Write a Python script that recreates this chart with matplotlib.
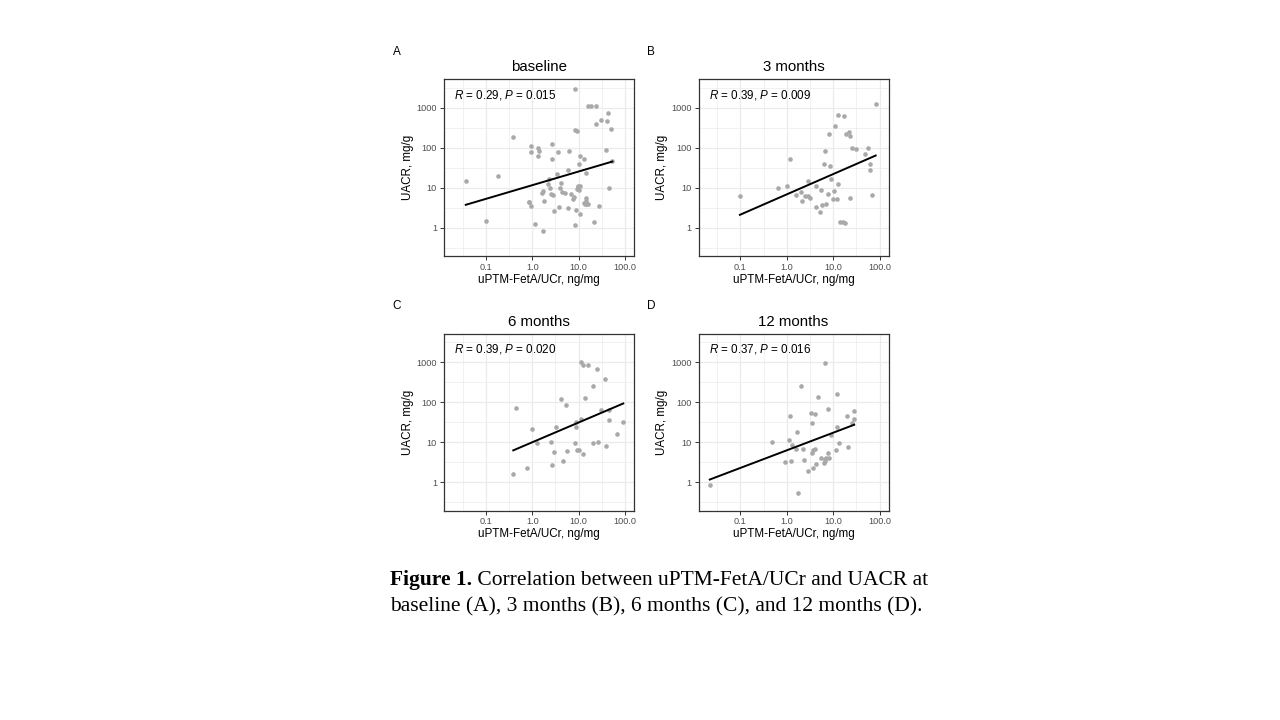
import numpy as np
import matplotlib
matplotlib.use('Agg')
import matplotlib.pyplot as plt
from matplotlib.ticker import FixedLocator, FixedFormatter, NullFormatter

plt.rcParams['font.family'] = ['Liberation Sans', 'DejaVu Sans']
plt.rcParams['mathtext.fontset'] = 'custom'
plt.rcParams['mathtext.rm'] = 'Liberation Sans'
plt.rcParams['mathtext.it'] = 'Liberation Sans:italic'

# ---------------- data ----------------
a_x = [0.037, 0.1, 0.18, 0.38, 0.83, 0.87, 0.92, 0.95, 0.95, 1.14, 1.35, 1.37, 1.3,
       1.6, 1.67, 1.73, 1.78, 2.2, 2.3, 2.45, 2.48, 2.6, 2.7, 2.8, 2.9, 3.4, 3.6,
       3.7, 3.9, 4.1, 4.4, 5.0, 5.9, 6.3, 6.0, 6.8, 7.4, 7.9, 8.3, 8.4, 9.0, 8.5,
       8.7, 9.2, 9.5, 9.8, 10.3, 10.6, 10.0, 10.6, 10.6, 13, 13, 13.5, 14, 14.5,
       14.5, 14.5, 16, 16, 18, 23.5, 21, 23, 27, 30, 39, 40.5, 43, 44, 49, 53]
a_y = [15, 1.47, 20, 185, 4.4, 4.3, 76, 112, 3.5, 1.23, 100, 84, 62,
       7.4, 8.3, 0.84, 4.5, 12.3, 16.8, 10, 7.1, 51, 120, 6.7, 2.6, 22, 76,
       3.2, 9.6, 13, 7.9, 7.5, 28, 81, 3.1, 6.8, 5.2, 5.8, 2880, 270, 256, 1.14,
       2.8, 9.3, 10.4, 11, 8.9, 11, 38, 62, 2.2, 51, 4.1, 3.8, 4.6, 23,
       5.6, 4.0, 3.8, 1100, 1100, 1100, 1.4, 390, 3.5, 490, 89, 465, 740, 9.8, 295, 45]

b_x = [0.098, 0.66, 1.0, 1.16, 1.6, 2.04, 2.1, 2.5, 2.85, 2.9, 3.1, 4.3, 4.2, 5.1,
       5.5, 5.7, 6.2, 6.7, 7.1, 7.7, 8.1, 8.5, 8.9, 9.8, 10.3, 10.9, 11.8, 12.6,
       12.6, 14, 15.9, 17.8, 17.3, 18.7, 22.4, 22.9, 23.3, 25, 31.6, 47.6, 55, 62,
       62, 67, 82]
b_y = [6.3, 10, 11, 51, 6.7, 7.8, 4.6, 6.3, 15, 6.0, 5.4, 11, 3.2, 2.5,
       8.7, 3.6, 38, 83, 3.9, 7.1, 215, 34, 16, 5.2, 8.3, 340, 5.3, 12,
       660, 1.36, 1.4, 1.33, 600, 215, 250, 200, 5.6, 96, 93, 68, 96, 40,
       27, 6.7, 1200]

c_x = [0.39, 0.45, 0.77, 1.0, 1.28, 2.5, 2.7, 3.0, 3.2, 4.1, 4.6, 5.2, 5.7, 8.2,
       8.6, 8.9, 9.3, 10.0, 11.0, 11.4, 12.3, 12.3, 13.7, 15.9, 19.8, 20.5, 25,
       26.3, 30.7, 37.5, 38, 45.6, 45.6, 68, 91]
c_y = [1.6, 71, 2.3, 21.5, 9.4, 10.2, 2.7, 5.6, 24.5, 123, 3.3, 84, 6.1, 9.6,
       31.6, 24.5, 6.4, 6.3, 37, 1020, 850, 4.9, 128, 850, 256, 9.3, 670,
       10.2, 62, 380, 8.1, 35, 63, 16, 32]

d_x = [0.022, 0.47, 0.93, 1.09, 1.18, 1.22, 1.32, 1.62, 1.7, 1.76, 2.07, 2.2, 2.3,
       2.84, 3.35, 3.5, 3.5, 3.6, 3.76, 4.0, 4.1, 4.3, 4.7, 5.4, 6.3, 6.6, 6.8,
       6.7, 7.1, 7.7, 7.7, 8.3, 9.1, 11.2, 11.8, 12.2, 13.2, 20.3, 19.7, 25.7,
       27.5, 28.3]
d_y = [0.84, 10.2, 3.2, 11, 44, 3.4, 8.7, 6.8, 18, 0.53, 256, 6.8, 3.6,
       1.9, 54, 30, 5.4, 2.2, 6.2, 6.9, 50, 2.9, 133, 4.0, 3.0, 3.8, 960,
       3.4, 4.1, 67, 5.4, 4.1, 15.3, 6.5, 24.5, 160, 9.6, 7.6, 46, 29.3,
       60, 38]

panel_letters = ['A', 'B', 'C', 'D']
panel_titles = ['baseline', '3 months', '6 months', '12 months']
r_values = ['0.29', '0.39', '0.39', '0.37']
p_values = ['0.015', '0.009', '0.020', '0.016']
x_ticks = [0.1, 1, 10, 100]
x_tick_labels = ['0.1', '1.0', '10.0', '100.0']
y_ticks = [1, 10, 100, 1000]
y_tick_labels = ['1', '10', '100', '1000']
x_label = 'uPTM-FetA/UCr, ng/mg'
y_label = 'UACR, mg/g'
caption_bold = 'Figure 1.'
caption_line1 = ' Correlation between uPTM-FetA/UCr and UACR at'
caption_line2 = 'baseline (A), 3 months (B), 6 months (C), and 12 months (D).'

panels_x = [a_x, b_x, c_x, d_x]
panels_y = [a_y, b_y, c_y, d_y]

# ---------------- layout ----------------
W, H = 1280, 720
fig = plt.figure(figsize=(W / 100, H / 100), dpi=100)
fig.patch.set_facecolor('white')

boxes = [(444, 79, 634, 256), (698.5, 79, 888.5, 256),
         (444, 333.5, 634, 510.5), (698.5, 333.5, 888.5, 510.5)]

x_lim = (10 ** -1.9, 10 ** 2.19)
y_lim = (10 ** -0.71, 10 ** 3.715)
x_minor = [10 ** -1.5, 10 ** -0.5, 10 ** 0.5, 10 ** 1.5]
y_minor = [10 ** -0.5, 10 ** 0.5, 10 ** 1.5, 10 ** 2.5, 10 ** 3.5]

for i, (l, t, r, b) in enumerate(boxes):
    ax = fig.add_axes([l / W, 1 - b / H, (r - l) / W, (b - t) / H])
    ax.set_xscale('log')
    ax.set_yscale('log')
    ax.set_xlim(*x_lim)
    ax.set_ylim(*y_lim)
    ax.xaxis.set_major_locator(FixedLocator(x_ticks))
    ax.xaxis.set_major_formatter(FixedFormatter(x_tick_labels))
    ax.yaxis.set_major_locator(FixedLocator(y_ticks))
    ax.yaxis.set_major_formatter(FixedFormatter(y_tick_labels))
    ax.xaxis.set_minor_locator(FixedLocator(x_minor))
    ax.yaxis.set_minor_locator(FixedLocator(y_minor))
    ax.xaxis.set_minor_formatter(NullFormatter())
    ax.yaxis.set_minor_formatter(NullFormatter())
    ax.grid(True, which='major', color='#EBEBEB', linewidth=0.9, zorder=0)
    ax.grid(True, which='minor', color='#EBEBEB', linewidth=0.5, zorder=0)
    ax.set_axisbelow(True)
    ax.tick_params(which='major', length=3, width=0.7, color='#333333',
                   labelsize=6.6, labelcolor='#4D4D4D', pad=2)
    ax.tick_params(which='minor', length=0)
    for sp in ax.spines.values():
        sp.set_color('#333333')
        sp.set_linewidth(0.9)

    xs = np.array(panels_x[i], dtype=float)
    ys = np.array(panels_y[i], dtype=float)
    ax.scatter(xs, ys, s=11, color='#A9A9A9', linewidths=0, zorder=3)

    lx, ly = np.log10(xs), np.log10(ys)
    slope, intercept = np.polyfit(lx, ly, 1)
    xl = np.array([lx.min(), lx.max()])
    ax.plot(10 ** xl, 10 ** (intercept + slope * xl), color='black',
            linewidth=1.4, zorder=4)

    ax.text(0.053, 0.89, f'$R$ = {r_values[i]}, $P$ = {p_values[i]}',
            transform=ax.transAxes, fontsize=8.4, color='black',
            ha='left', va='baseline')
    ax.set_title(panel_titles[i], fontsize=10.8, color='black', pad=5.5)
    ax.text(-36 / (r - l), 0.5, y_label, rotation=90, ha='center',
            va='center', fontsize=8.4, transform=ax.transAxes)
    ax.text(0.5, -24 / (b - t), x_label, ha='center', va='center',
            fontsize=8.4, transform=ax.transAxes)
    fig.text((l - 51.5) / W, 1 - (t - 27) / H, panel_letters[i], fontsize=8.5,
             ha='left', va='center')

# caption
cap_fs = 15.5
tb = fig.text(390 / W, 1 - 585 / H, caption_bold, fontsize=cap_fs,
              fontweight='bold', family='Liberation Serif', va='baseline')
fig.canvas.draw()
ext = tb.get_window_extent(fig.canvas.get_renderer())
fig.text(ext.x1 / W, 1 - 585 / H, caption_line1, fontsize=cap_fs,
         family='Liberation Serif', va='baseline')
fig.text(390 / W, 1 - 611 / H, caption_line2, fontsize=cap_fs,
         family='Liberation Serif', va='baseline')

fig.savefig('out.png', dpi=100, facecolor='white')
